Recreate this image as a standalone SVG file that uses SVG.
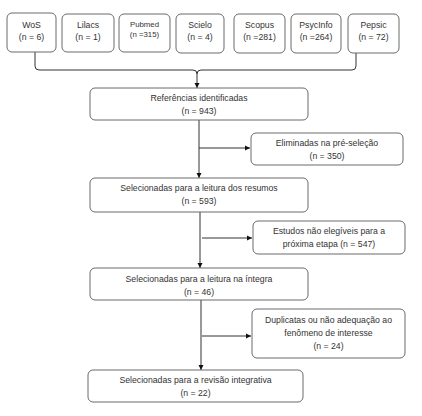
<svg xmlns="http://www.w3.org/2000/svg" width="422" height="416" viewBox="0 0 422 416">
<style>
.box{fill:#fff;stroke:#6a6a6a;stroke-width:1}
.t{font-family:"Liberation Sans",Arial,sans-serif;font-size:8.7px;fill:#333;text-anchor:middle}
.ts{font-family:"Liberation Sans",Arial,sans-serif;font-size:7.8px;fill:#333;text-anchor:middle}
.ln{fill:none;stroke:#333;stroke-width:1}
</style>
<defs>
<marker id="ah" markerWidth="6" markerHeight="6" refX="5" refY="3" orient="auto" markerUnits="userSpaceOnUse">
<path d="M0,0.5 L5,3 L0,5.5 Z" fill="#111"/>
</marker>
</defs>
<rect width="422" height="416" fill="#fff"/>
<g id="connectors">
<path class="ln" d="M35,52 V66 Q35,70 39,70 H193 Q197,70 197,74 Q197,70 201,70 H352 Q356,70 356,66 V53"/>
<line class="ln" x1="197" y1="74" x2="197" y2="88" marker-end="url(#ah)"/>
<line class="ln" x1="199" y1="120" x2="199" y2="178" marker-end="url(#ah)"/>
<line class="ln" x1="199" y1="148" x2="250" y2="148" marker-end="url(#ah)"/>
<line class="ln" x1="200" y1="212" x2="200" y2="268" marker-end="url(#ah)"/>
<line class="ln" x1="202" y1="238" x2="252" y2="238" marker-end="url(#ah)"/>
<line class="ln" x1="201" y1="300" x2="201" y2="370" marker-end="url(#ah)"/>
<line class="ln" x1="202" y1="336" x2="251" y2="336" marker-end="url(#ah)"/>
</g>
<g id="wos"><rect class="box" x="7" y="13" width="49" height="39" rx="5"/><text class="t" x="31.5" y="28">WoS</text><text class="t" x="31.5" y="40">(n = 6)</text></g>
<g id="lilacs"><rect class="box" x="62" y="14" width="52" height="38" rx="5"/><text class="t" x="88" y="28">Lilacs</text><text class="t" x="88" y="40">(n = 1)</text></g>
<g id="pubmed"><rect class="box" x="119" y="14" width="51" height="38" rx="5"/><text class="ts" x="144.5" y="27">Pubmed</text><text class="ts" x="144.5" y="37">(n =315)</text></g>
<g id="scielo"><rect class="box" x="176" y="14" width="48" height="39" rx="5"/><text class="t" x="200" y="28">Scielo</text><text class="t" x="200" y="40">(n = 4)</text></g>
<g id="scopus"><rect class="box" x="234" y="14" width="51" height="39" rx="5"/><text class="t" x="259.5" y="28">Scopus</text><text class="t" x="259.5" y="40">(n =281)</text></g>
<g id="psycinfo"><rect class="box" x="291" y="14" width="50" height="39" rx="5"/><text class="t" x="316" y="28">PsycInfo</text><text class="t" x="316" y="40">(n =264)</text></g>
<g id="pepsic"><rect class="box" x="348" y="14" width="51" height="39" rx="5"/><text class="t" x="373.5" y="28">Pepsic</text><text class="t" x="373.5" y="40">(n = 72)</text></g>
<g id="referencias"><rect class="box" x="90" y="88" width="218" height="32" rx="5"/><text class="t" x="199" y="101">Referências identificadas</text><text class="t" x="199" y="114">(n = 943)</text></g>
<g id="eliminadas"><rect class="box" x="251" y="133" width="152" height="32" rx="5"/><text class="t" x="327" y="146">Eliminadas na pré-seleção</text><text class="t" x="327" y="159">(n = 350)</text></g>
<g id="resumos"><rect class="box" x="90" y="178" width="218" height="34" rx="5"/><text class="t" x="199" y="191">Selecionadas para a leitura dos resumos</text><text class="t" x="199" y="204">(n = 593)</text></g>
<g id="estudos"><rect class="box" x="253" y="221" width="152" height="33" rx="5"/><text class="t" x="329" y="234">Estudos não elegíveis para a</text><text class="t" x="329" y="247">próxima etapa (n = 547)</text></g>
<g id="integra"><rect class="box" x="90" y="268" width="218" height="32" rx="5"/><text class="t" x="199" y="282">Selecionadas para a leitura na íntegra</text><text class="t" x="199" y="295">(n = 46)</text></g>
<g id="duplicatas"><rect class="box" x="252" y="309" width="153" height="49" rx="5"/><text class="t" x="328.5" y="323">Duplicatas ou não adequação ao</text><text class="t" x="328.5" y="336">fenômeno de interesse</text><text class="t" x="328.5" y="349">(n = 24)</text></g>
<g id="revisao"><rect class="box" x="88" y="370" width="215" height="32" rx="5"/><text class="t" x="195.5" y="383">Selecionadas para a revisão integrativa</text><text class="t" x="195.5" y="396">(n = 22)</text></g>
</svg>
